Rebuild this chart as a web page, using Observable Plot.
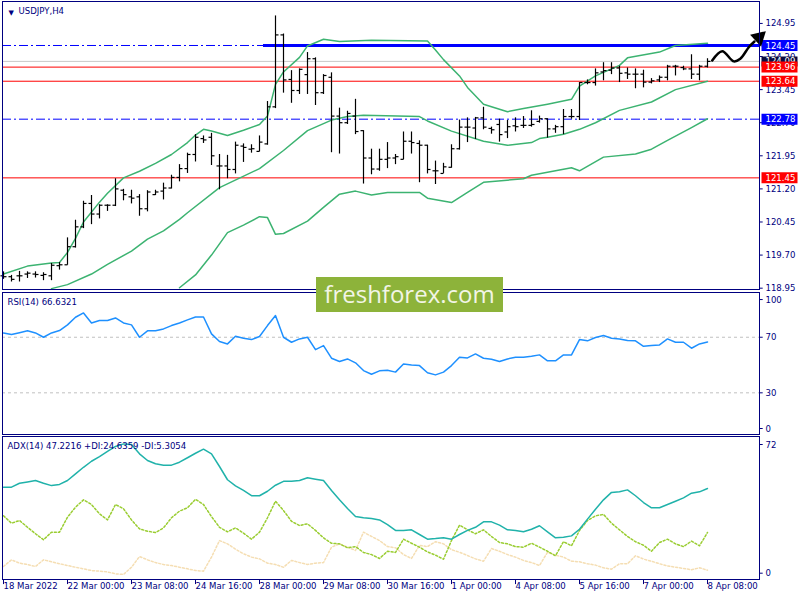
<!DOCTYPE html>
<html><head><meta charset="utf-8">
<script src="https://cdn.jsdelivr.net/npm/d3@7"></script>
<script src="https://cdn.jsdelivr.net/npm/@observablehq/plot@0.6"></script>
<style>
body{margin:0;background:#fff}
#chart{position:relative;width:800px;height:600px;background:#fff;overflow:hidden}
.panel{position:absolute;left:0}
.panel svg{overflow:visible}
#wm{position:absolute;left:316px;top:277px;width:187px;height:35px;background:#8db33a;color:#f2f5e6;font:24px "Open Sans",sans-serif;text-align:center;line-height:34px}
</style></head><body><div id="chart"></div>
<script>
// ---------- data ----------
const symbolLabel = "USDJPY,H4";
const rsiLabel = "RSI(14) 66.6321";
const adxLabel = "ADX(14) 47.2216 +DI:24.6359 -DI:5.3054";

const open = [119.23,119.21,119.23,119.27,119.27,119.24,119.23,119.46,119.48,119.89,
120.34,120.87,120.63,120.83,120.83,121.17,121.02,121.02,120.75,121.07,
121.15,121.22,121.46,121.66,121.98,122.34,122.37,121.72,121.72,121.64,
122.17,122.10,122.05,122.22,123.06,124.69,123.68,123.43,123.79,124.15,
123.38,123.73,122.85,122.70,122.85,122.52,121.90,121.65,121.87,121.90,
121.87,122.28,122.23,122.19,121.61,121.55,121.69,122.11,122.60,122.58,
122.81,122.57,122.66,122.49,122.63,122.64,122.64,122.73,122.79,122.56,
122.61,122.84,122.84,123.61,123.61,123.85,123.89,123.94,123.83,123.80,
123.80,123.62,123.67,123.73,123.98,123.95,123.92,123.80,123.98];
const high = [119.32,119.24,119.33,119.32,119.32,119.30,119.51,119.53,120.09,120.49,
120.92,121.05,120.84,120.84,121.43,121.19,121.17,121.07,121.16,121.17,
121.33,121.51,121.75,122.01,122.43,122.40,122.46,121.98,121.96,122.26,
122.22,122.20,122.40,123.18,125.12,124.71,123.88,123.92,124.29,124.17,
123.79,123.83,123.03,122.96,123.23,122.52,122.10,122.10,122.25,121.98,
122.49,122.49,122.29,122.19,121.83,121.78,122.20,122.76,122.81,122.82,
123.05,122.60,122.78,122.75,122.81,122.84,122.97,122.85,122.79,122.64,
123.00,123.00,123.61,123.67,123.92,124.06,124.06,123.98,123.94,123.92,
123.89,123.70,123.76,124.00,124.00,123.98,124.24,124.00,124.15];
const low = [119.15,119.09,119.09,119.17,119.18,119.12,119.12,119.36,119.47,119.86,
120.30,120.39,120.52,120.69,120.80,120.93,120.86,120.58,120.68,121.05,
120.95,121.20,121.36,121.55,121.81,122.23,121.73,121.18,121.43,121.54,
121.80,122.01,122.04,122.19,123.02,123.37,123.14,123.34,123.34,123.09,
123.34,122.02,121.99,122.66,122.43,121.31,121.52,121.60,121.66,121.75,
121.86,121.99,121.34,121.54,121.30,121.55,121.67,122.08,122.25,122.32,
122.54,122.44,122.26,122.34,122.49,122.57,122.60,122.69,122.35,122.46,
122.43,122.78,122.75,123.56,123.53,123.65,123.79,123.61,123.68,123.47,
123.49,123.58,123.61,123.65,123.76,123.88,123.68,123.65,123.94];
const close = [119.21,119.15,119.23,119.29,119.26,119.26,119.47,119.48,119.89,120.34,
120.87,120.63,120.83,120.83,121.20,121.07,120.99,120.75,121.13,121.13,
121.22,121.46,121.66,121.98,122.37,122.31,121.95,121.72,121.64,122.19,
122.14,122.11,122.26,123.06,124.69,123.67,123.43,123.91,124.15,123.38,
123.77,122.85,122.70,122.91,122.50,121.90,121.65,121.87,121.90,121.93,
122.28,122.25,122.19,121.64,121.61,121.70,122.11,122.60,122.60,122.81,
122.60,122.54,122.43,122.61,122.61,122.64,122.66,122.79,122.56,122.61,
122.84,122.84,123.61,123.61,123.83,123.88,123.94,123.82,123.80,123.80,
123.62,123.65,123.73,123.98,123.98,123.92,123.80,123.98,124.09];

const bbUpper = [[0,119.27],[3,119.45],[6,119.52],[7,119.53],[8,119.76],[9,120.08],[10,120.45],[12,120.90],[13,121.10],[15,121.45],[17,121.60],[19,121.78],[21,121.98],[23,122.25],[24,122.42],[25,122.55],[26,122.51],[28,122.41],[30,122.53],[32,122.66],[33,122.85],[34,123.57],[35,123.85],[37,124.18],[38,124.44],[40,124.59],[42,124.54],[46,124.57],[53,124.55],[54,124.35],[55,124.13],[57,123.76],[58,123.50],[60,123.12],[63,122.95],[65,123.02],[68,123.12],[71,123.23],[72,123.53],[74,123.76],[77,124.00],[78,124.17],[82,124.30],[84,124.45],[88,124.50]];
const bbMiddle = [[6,118.94],[8,119.03],[11,119.27],[13,119.49],[16,119.79],[18,120.06],[20,120.25],[22,120.51],[23,120.66],[27,121.23],[32,121.66],[35,122.07],[38,122.52],[41,122.76],[43,122.84],[45,122.87],[52,122.84],[53,122.74],[56,122.51],[60,122.28],[63,122.19],[66,122.25],[67,122.34],[68,122.37],[70,122.44],[72,122.55],[74,122.70],[77,122.98],[81,123.17],[84,123.45],[88,123.64]];
const bbLower = [[22,118.96],[24,119.25],[26,119.70],[28,120.21],[30,120.38],[32,120.57],[33,120.55],[34,120.17],[35,120.19],[38,120.47],[40,120.78],[42,121.08],[44,121.15],[46,121.06],[48,121.12],[52,121.12],[53,120.99],[56,120.89],[58,121.12],[60,121.35],[65,121.43],[66,121.51],[71,121.68],[72,121.61],[75,121.92],[79,121.99],[81,122.10],[83,122.30],[86,122.59],[88,122.79]];

const rsi = [73.1,71.9,73.2,74.6,73.1,70,73.1,74.8,78.9,84.4,
87.5,80.3,82,82,83.9,80.3,78.9,70,74.6,74.6,
76,78.4,80.3,82.5,84.6,84.6,72.4,66.9,65.2,70.7,
69.3,68.3,70.5,78.4,85.6,70,66.4,68.8,70,61.1,
64,54.9,52.5,54.4,51.6,46,43.4,45.8,46.3,44.9,
50.8,50.1,49.6,44.4,42.9,44.9,49.6,55.6,55.1,58,
54.9,54.2,52.5,54.4,55.6,55.6,56.3,57.3,53,53,
57.3,57.3,68.3,67.4,69.8,71.2,69.3,68.8,67.6,67.4,
63.5,64,64.5,68.8,66.4,66.4,62.1,65.2,66.63];

const adx = [47.9,47.9,49.9,50.6,51.3,49.9,48.7,49.3,51.3,54.7,
58.1,61.2,63.6,66.3,68.8,70.1,69.8,65,61.6,59.9,
59.2,59.2,60.7,63,65.3,67.4,65,58.5,51.7,48.6,
46.2,43.5,43.5,45.8,48.9,50.9,50.9,51.3,52.7,52,
51.3,46.2,41.4,36.9,32.8,32.2,31.8,31.1,28.7,25.7,
25.7,26,23.6,21.2,21.5,21.9,21.2,23.6,25.7,27.3,
30.1,30.1,28.4,26,25.7,25,26.3,28.1,25,21.9,
22.2,22.9,26.3,31.5,36.6,41.4,45.2,45.5,46.5,43.5,
40,37.3,37.3,39,40.7,42.4,44.8,45.5,47.22];
const plusDI = [33.2,29.4,30.8,27.3,24,20.9,24.8,24.8,32.5,37.6,
41.4,39,34.2,31.1,39,36.8,31.1,26.5,25.3,24.6,
27,32.2,35.6,37.3,41.7,39,32.8,27.3,25,27,
24.3,21.2,24.8,32.2,40.7,35.9,30.4,28.2,29.1,25.7,
21.9,19.1,18.8,16.8,17.4,14.4,13.3,11.3,15,14.4,
21.2,19.1,17.1,14.7,13,10.9,20.5,28.4,26,24,
26,22.6,19.5,18.8,17.4,17.1,19.1,17.1,15,12.7,
19.9,17.8,25.7,30.8,33.2,33.9,29.4,26,22.6,19.9,
18.1,15,19.5,21.2,18.8,17.4,20.2,17.8,24.64];
const minusDI = [7.2,10.6,8.9,8.2,7.2,10.6,9.6,8.6,7.7,6.8,
6,5.1,4.8,4.4,3.4,3.1,6.8,12.3,10.6,9.2,
8.2,7.7,6.8,6,5.1,4.8,12,20.5,18.8,16.1,
13.7,12,11.1,8.9,8.2,6.8,10.3,9.2,8.2,8.9,
9.2,17.1,18.8,17.1,15.4,24.8,22.6,20.5,17.4,16.8,
13.3,11.3,18,17.4,19.9,18.8,15.8,14.5,12.8,11.1,
9.9,16.4,15,13.3,12,10.3,9.2,7.7,14.5,13,
12,9.9,9.6,8.6,7.9,6.5,5.8,8.6,8.6,12.7,
11,9.9,8.6,7.5,6.8,6.2,5.5,6.5,5.31];

const levelPrices = [124.45, 123.96, 123.64, 122.78, 121.45];
const levelColors = ["#0000ff", "#ff0000", "#ff0000", "#0000ff", "#ff0000"];
const levelDashed = [true, false, false, true, false];
const resistanceStartBar = 32.5;   // thick part of 124.45 line starts here
const bidPrice = 124.09;

const priceTicks = [124.95, 124.20, 123.45, 122.70, 121.95, 121.20, 120.45, 119.70, 118.95];
const rsiLevels = [70, 30];
const xTickBars = [0, 8, 16, 24, 32, 40, 48, 56, 64, 72, 80, 88];
const xTickLabels = ["18 Mar 2022","22 Mar 00:00","23 Mar 08:00","24 Mar 16:00","28 Mar 00:00","29 Mar 08:00","30 Mar 16:00","1 Apr 00:00","4 Apr 08:00","5 Apr 16:00","7 Apr 00:00","8 Apr 08:00"];
const arrowPath = [[88.59,124.11],[89.84,124.32],[91.29,124.09],[92.1,124.15],[93.16,124.41],[93.87,124.54]];
const arrowHead = [[94.44,124.63]];

// ---------- build ----------
const NAVY = "#000080";
const FONT = 'Tahoma, "DejaVu Sans Condensed", "Liberation Sans", sans-serif';
const FS = 9.5;
const XDOM = [-0.125, 94.5];
const AXR = 94.5, AXT = 94.9, BOX0 = 94.75, BOX1 = 99.25;
const bars = open.map((o, i) => ({i, open: o, high: high[i], low: low[i], close: close[i]}));
const levels = levelPrices.map((p, k) => ({price: p, color: levelColors[k], dashed: levelDashed[k]}));
const xTicks = xTickBars.map((b, k) => ({i: b, label: xTickLabels[k]}));
const baseStyle = {fontFamily: FONT, fontSize: FS + "px", background: "transparent", color: NAVY, overflow: "visible"};

const mainSvg = Plot.plot({
  width: 800, height: 290, marginLeft: 2, marginRight: 41, marginTop: 1, marginBottom: 1,
  x: {domain: XDOM, axis: null},
  y: {domain: [118.920, 125.447], axis: null},
  color: {type: "identity"},
  style: baseStyle,
  marks: [
    Plot.ruleY([bidPrice], {stroke: "#c8c8c8"}),
    Plot.ruleY(levels.filter(d => d.dashed && d.price !== levelPrices[0]), {y: "price", stroke: "color", strokeDasharray: "9,3,2,3"}),
    Plot.ruleY(levels.filter(d => !d.dashed), {y: "price", stroke: "color"}),
    Plot.ruleY([levels[0]], {y: "price", x1: () => XDOM[0], x2: () => resistanceStartBar, stroke: "color", strokeDasharray: "9,3,2,3"}),
    Plot.ruleY([levels[0]], {y: "price", x1: () => resistanceStartBar, x2: () => AXR, stroke: "color", strokeWidth: 3}),
    Plot.line(bbUpper, {x: d => d[0], y: d => d[1], stroke: "#3cb371"}),
    Plot.line(bbMiddle, {x: d => d[0], y: d => d[1], stroke: "#3cb371"}),
    Plot.line(bbLower, {x: d => d[0], y: d => d[1], stroke: "#3cb371"}),
    Plot.ruleX(bars, {x: "i", y1: "low", y2: "high", stroke: "black", strokeWidth: 1.2}),
    Plot.link(bars, {x1: d => d.i - 0.375, x2: "i", y1: "open", y2: "open", stroke: "black", strokeWidth: 1.2}),
    Plot.link(bars, {x1: "i", x2: d => d.i + 0.375, y1: "close", y2: "close", stroke: "black", strokeWidth: 1.2}),
    Plot.link(priceTicks, {x1: () => AXR, x2: () => AXT, y1: d => d, y2: d => d, stroke: NAVY}),
    Plot.text(priceTicks, {y: d => d, text: d => d.toFixed(2), frameAnchor: "right", dx: 6, textAnchor: "start", fill: NAVY, fontSize: FS}),
    Plot.link([bidPrice], {x1: () => BOX0, x2: () => BOX1, y1: d => d, y2: d => d, stroke: "#0c0c40", strokeWidth: 10}),
    Plot.text([bidPrice], {y: d => d, text: d => d.toFixed(2), frameAnchor: "right", dx: 6, textAnchor: "start", fill: "white", fontSize: FS}),
    Plot.link(levels, {x1: () => BOX0, x2: () => BOX1, y1: "price", y2: "price", stroke: "color", strokeWidth: 11}),
    Plot.text(levels, {y: "price", text: d => d.price.toFixed(2), frameAnchor: "right", dx: 6, textAnchor: "start", fill: "white", fontSize: FS}),
    Plot.text(["\u25BC"], {text: d => d, frameAnchor: "top-left", dx: 6, dy: 9, fill: NAVY, fontSize: 7, fontFamily: "DejaVu Sans"}),
    Plot.text([symbolLabel], {text: d => d, frameAnchor: "top-left", dx: 16, dy: 9.7, textAnchor: "start", lineAnchor: "middle", fill: NAVY, fontSize: FS}),
    Plot.line(arrowPath, {x: d => d[0], y: d => d[1], stroke: "black", strokeWidth: 2.5, curve: "catmull-rom"}),
    Plot.dot(arrowHead, {x: d => d[0], y: d => d[1], symbol: "triangle", r: 6, fill: "black", rotate: 47})
  ]
});

const rsiSvg = Plot.plot({
  width: 800, height: 145, marginLeft: 2, marginRight: 41, marginTop: 1, marginBottom: 2,
  x: {domain: XDOM, axis: null},
  y: {domain: [0, 102.2], axis: null},
  style: baseStyle,
  marks: [
    Plot.ruleY(rsiLevels, {stroke: "#c0c0c0", strokeDasharray: "3,3"}),
    Plot.line(rsi, {x: (d, i) => i, y: d => d, stroke: "#1e90ff"}),
    Plot.frame({stroke: NAVY}),
    Plot.link(rsiLevels, {x1: () => AXR, x2: () => AXT, y1: d => d, y2: d => d, stroke: NAVY}),
    Plot.text(rsiLevels, {y: d => d, text: d => String(d), frameAnchor: "right", dx: 6, textAnchor: "start", fill: NAVY, fontSize: FS}),
    Plot.link([100], {x1: () => AXR, x2: () => AXT, y1: d => d, y2: d => d, dy: 4, stroke: NAVY}),
    Plot.text([100], {y: d => d, text: d => String(d), frameAnchor: "right", dx: 6, dy: 4, textAnchor: "start", fill: NAVY, fontSize: FS}),
    Plot.link([0], {x1: () => AXR, x2: () => AXT, y1: d => d, y2: d => d, dy: -6, stroke: NAVY}),
    Plot.text([0], {y: d => d, text: d => String(d), frameAnchor: "right", dx: 6, dy: -6, textAnchor: "start", fill: NAVY, fontSize: FS}),
    Plot.text([rsiLabel], {text: d => d, frameAnchor: "top-left", dx: 5, dy: 9.7, textAnchor: "start", lineAnchor: "middle", fill: NAVY, fontSize: FS})
  ]
});

const adxSvg = Plot.plot({
  width: 800, height: 165, marginLeft: 2, marginRight: 41, marginTop: 1, marginBottom: 21,
  x: {domain: XDOM, axis: null},
  y: {domain: [0.51, 73.9], axis: null},
  style: baseStyle,
  marks: [
    Plot.line(minusDI, {x: (d, i) => i, y: d => d, stroke: "#f5deb3", strokeDasharray: "2,2"}),
    Plot.line(plusDI, {x: (d, i) => i, y: d => d, stroke: "#9acd32", strokeDasharray: "2,2"}),
    Plot.line(adx, {x: (d, i) => i, y: d => d, stroke: "#20b2aa"}),
    Plot.frame({stroke: NAVY}),
    Plot.link([72], {x1: () => AXR, x2: () => AXT, y1: d => d, y2: d => d, dy: 4.3, stroke: NAVY}),
    Plot.text([72], {y: d => d, text: d => String(d), frameAnchor: "right", dx: 6, dy: 4.3, textAnchor: "start", fill: NAVY, fontSize: FS}),
    Plot.link([0], {x1: () => AXR, x2: () => AXT, y1: d => d, y2: d => d, dy: -7.3, stroke: NAVY}),
    Plot.text([0], {y: d => d, text: d => String(d), frameAnchor: "right", dx: 6, dy: -7.3, textAnchor: "start", fill: NAVY, fontSize: FS}),
    Plot.ruleX(xTicks, {x: "i", y1: () => 0.51, y2: () => -2.1, stroke: NAVY}),
    Plot.text(xTicks, {x: "i", text: "label", frameAnchor: "bottom", dy: 9.7, textAnchor: "start", fill: NAVY, fontSize: FS}),
    Plot.text([adxLabel], {text: d => d, frameAnchor: "top-left", dx: 5, dy: 9.5, textAnchor: "start", lineAnchor: "middle", fill: NAVY, fontSize: FS})
  ]
});

const chart = document.getElementById("chart");
function addPanel(svg, top) {
  const d = document.createElement("div");
  d.className = "panel";
  d.style.top = top + "px";
  d.appendChild(svg);
  chart.appendChild(d);
}
addPanel(rsiSvg, 291);
addPanel(adxSvg, 435);
addPanel(mainSvg, 0);
const mainFrame = Plot.plot({
  width: 800, height: 290, marginLeft: 2, marginRight: 41, marginTop: 1, marginBottom: 1,
  x: {domain: XDOM, axis: null}, y: {domain: [118.920, 125.447], axis: null},
  style: baseStyle,
  marks: [Plot.frame({stroke: NAVY})]
});
addPanel(mainFrame, 0);
const wm = document.createElement("div");
wm.id = "wm";
wm.textContent = "freshforex.com";
chart.appendChild(wm);
</script>
</body></html>
